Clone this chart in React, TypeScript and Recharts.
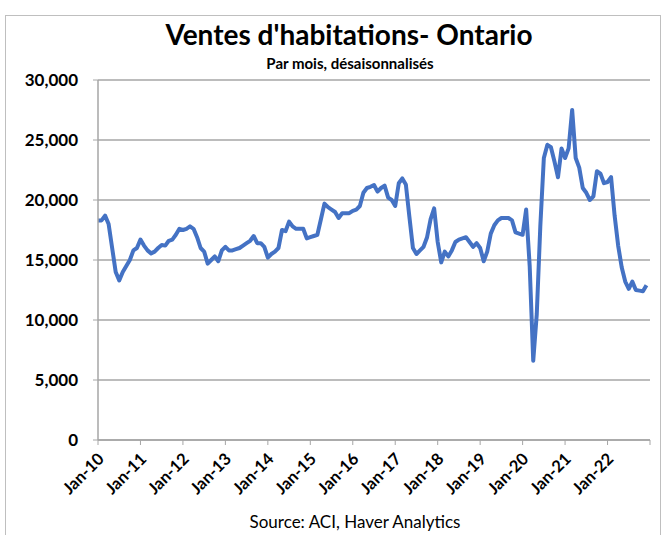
import { LineChart, Line, XAxis, YAxis, CartesianGrid } from "recharts";

// monthly sales, seasonally adjusted (units), Jan..Dec of each year
const sales2010 = [18300, 18300, 18700, 18000, 16000, 14000, 13300, 14000, 14500, 15000, 15800, 16000];
const sales2011 = [16700, 16200, 15800, 15550, 15700, 16000, 16250, 16200, 16600, 16700, 17100, 17600];
const sales2012 = [17500, 17600, 17800, 17600, 16900, 16000, 15700, 14700, 15000, 15300, 14900, 15800];
const sales2013 = [16100, 15800, 15800, 15900, 16000, 16200, 16400, 16600, 17000, 16400, 16400, 16100];
const sales2014 = [15200, 15500, 15700, 16000, 17500, 17400, 18200, 17800, 17600, 17600, 17600, 16800];
const sales2015 = [16900, 17000, 17100, 18400, 19700, 19400, 19200, 19000, 18500, 18900, 18900, 18900];
const sales2016 = [19100, 19200, 19500, 20600, 21000, 21100, 21250, 20700, 21000, 21200, 20200, 20000];
const sales2017 = [19500, 21400, 21800, 21300, 18600, 16000, 15500, 15800, 16100, 16900, 18400, 19300];
const sales2018 = [16500, 14800, 15700, 15300, 15800, 16500, 16700, 16800, 16900, 16500, 16100, 16400];
const sales2019 = [16000, 14900, 15700, 17200, 17900, 18300, 18500, 18500, 18500, 18300, 17300, 17200];
const sales2020 = [17100, 19200, 14500, 6600, 10500, 17800, 23500, 24600, 24400, 23200, 21900, 24300];
const sales2021 = [23500, 24300, 27500, 23500, 22700, 21000, 20600, 20000, 20300, 22400, 22200, 21400];
const sales2022 = [21500, 21900, 18700, 16200, 14400, 13200, 12600, 13200, 12500, 12450, 12400, 12900];

const tickLabels = [
  "Jan-10", "Jan-11", "Jan-12", "Jan-13", "Jan-14", "Jan-15", "Jan-16",
  "Jan-17", "Jan-18", "Jan-19", "Jan-20", "Jan-21", "Jan-22",
];
const yTicks = [0, 5000, 10000, 15000, 20000, 25000, 30000];

const allSales = [
  ...sales2010, ...sales2011, ...sales2012, ...sales2013, ...sales2014,
  ...sales2015, ...sales2016, ...sales2017, ...sales2018, ...sales2019,
  ...sales2020, ...sales2021, ...sales2022,
];
const data = allSales.map((v, i) => ({ m: i, sales: v }));
const xTicks = [...tickLabels.map((_, i) => i * 12), tickLabels.length * 12];

const FONT = "Lato, 'Open Sans', sans-serif";
const GRID = "#A6A6A6";

function MonthTick(props: any) {
  const { x, y, payload } = props;
  const label = tickLabels[payload.value / 12] ?? "";
  return (
    <text
      x={0}
      y={0}
      transform={`translate(${x + 7},${y + 13}) rotate(-45)`}
      textAnchor="end"
      fontFamily={FONT}
      fontWeight="bold"
      fontSize={16.5}
      fill="#000"
    >
      {label}
    </text>
  );
}

export default function App() {
  return (
    <div
      style={{
        position: "absolute",
        left: 0,
        top: 0,
        width: 666,
        height: 535,
        overflow: "hidden",
        background: "#fff",
        fontFamily: FONT,
      }}
    >
      <div
        style={{
          position: "absolute",
          left: 5,
          top: 15,
          width: 654,
          height: 560,
          border: "1px solid #BFBFBF",
        }}
      />
      <LineChart
        width={666}
        height={535}
        data={data}
        margin={{ top: 80, right: 16, bottom: 0, left: 0 }}
      >
        <CartesianGrid vertical={false} stroke={GRID} strokeWidth={1.5} />
        <XAxis
          dataKey="m"
          type="number"
          domain={[0, 156]}
          ticks={xTicks}
          interval={0}
          tick={<MonthTick />}
          tickLine={{ stroke: GRID }}
          axisLine={{ stroke: GRID, strokeWidth: 1.5 }}
          tickSize={5}
          height={95}
        />
        <YAxis
          domain={[0, 30000]}
          ticks={yTicks}
          interval={0}
          width={98}
          tickSize={5}
          tickMargin={15}
          tickLine={{ stroke: GRID }}
          axisLine={{ stroke: GRID, strokeWidth: 1.5 }}
          tickFormatter={(v: number) => v.toLocaleString("en-US")}
          tick={{ fontFamily: FONT, fontWeight: "bold", fontSize: 17, fill: "#000" }}
        />
        <Line
          dataKey="sales"
          type="linear"
          stroke="#4472C4"
          strokeWidth={4}
          strokeLinejoin="round"
          dot={false}
          isAnimationActive={false}
        />
      </LineChart>
      <svg
        width={666}
        height={535}
        style={{ position: "absolute", left: 0, top: 0, pointerEvents: "none" }}
      >
        <text x={349} y={45} textAnchor="middle" fontFamily={FONT} fontWeight="bold" fontSize={28} fill="#000">
          Ventes d'habitations- Ontario
        </text>
        <text x={350} y={69} textAnchor="middle" fontFamily={FONT} fontWeight="bold" fontSize={15} fill="#000">
          Par mois, désaisonnalisés
        </text>
        <text x={355} y={528} textAnchor="middle" fontFamily={FONT} fontSize={17} fill="#000">
          Source: ACI, Haver Analytics
        </text>
      </svg>
    </div>
  );
}
